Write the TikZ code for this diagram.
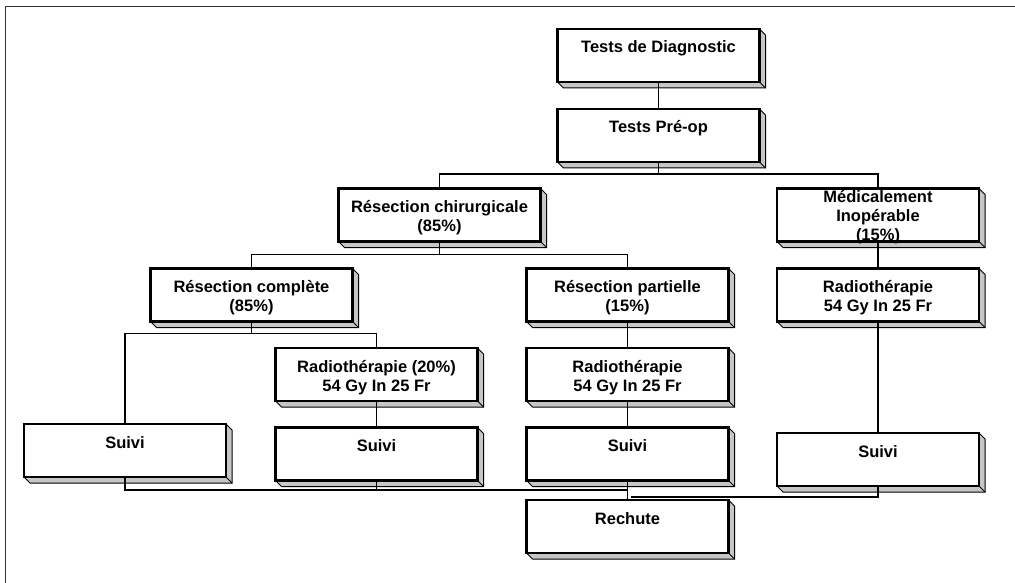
\documentclass[tikz,border=0pt]{standalone}
\usepackage{fontspec}
\setmainfont{Liberation Sans}
\usetikzlibrary{calc,backgrounds}

\tikzset{
  stagebox/.style={draw, line width=2.2pt, fill=white, minimum width=202pt, minimum height=53pt,
    inner sep=0pt, outer sep=0pt, align=center, text height=24pt, text depth=29pt,
    font=\fontsize{16.5}{19}\selectfont\bfseries},
  twolines/.style={text height=43pt, text depth=10pt},
  link/.style={line width=1.4pt},
  shade face/.style={fill=gray!45, line width=1pt},
}

\begin{document}
\begin{tikzpicture}[x=1pt, y=-1pt]
    \useasboundingbox (0,0) rectangle (1015,583);
    % Frame
    \draw[line width=1pt, black!80] (5.5,583) -- (5.5,7) -- (1015,7);

    % Work-up
    \node[stagebox] (diag) at (658.5,55.5) {Tests de Diagnostic};
    \node[stagebox] (preop) at (658.5,135.5) {Tests Pré-op};

    % First split
    \node[stagebox, twolines] (chir) at (439.5,215) {Résection chirurgicale\\(85\%)};
    \node[stagebox, text height=52pt, text depth=1pt] (medic) at (878,215) {Médicalement\\Inopérable\\(15\%)};

    % Surgery outcome
    \node[stagebox, twolines] (compl) at (251.5,295) {Résection complète\\(85\%)};
    \node[stagebox, twolines] (part) at (627.5,295) {Résection partielle\\(15\%)};
    \node[stagebox, twolines] (radR) at (878,295) {Radiothérapie\\54 Gy In 25 Fr};

    % Adjuvant treatment
    \node[stagebox, twolines] (rad20) at (376.5,374.5) {Radiothérapie (20\%)\\54 Gy In 25 Fr};
    \node[stagebox, twolines] (radP) at (627.5,374.5) {Radiothérapie\\54 Gy In 25 Fr};

    % Follow-up
    \node[stagebox] (suivi1) at (125,450.5) {Suivi};
    \node[stagebox] (suivi2) at (376.5,454) {Suivi};
    \node[stagebox] (suivi3) at (627.5,454) {Suivi};
    \node[stagebox] (suivi4) at (878,459.5) {Suivi};

    % Relapse
    \node[stagebox] (rechute) at (627.5,526.5) {Rechute};

    % 3D edges of the boxes
    \begin{pgfonlayer}{background}
        \foreach \b in {diag,preop,chir,medic,compl,part,radR,rad20,radP,suivi1,suivi2,suivi3,suivi4,rechute}{
            \filldraw[shade face] (\b.north east) -- ++(6,6) -- ($(\b.south east)+(6,6)$)
                -- ($(\b.south west)+(6,6)$) -- (\b.south west) -- cycle;
            \draw[line width=1pt] (\b.south east) -- ++(6,6);
        }
    \end{pgfonlayer}

    % Links
    \draw[link] (diag.south) -- (preop.north);
    \draw[link] (preop.south) -- ++(0,12) coordinate (j1) -| (chir.north);
    \draw[link] (j1) -| (medic.north);
    \draw[link] (chir.south) -- ++(0,13) coordinate (j2) -| (compl.north);
    \draw[link] (j2) -| (part.north);
    \draw[link] (medic.south) -- (radR.north);
    \draw[link] (compl.south) -- ++(0,12) coordinate (j3) -| (suivi1.north);
    \draw[link] (j3) -| (rad20.north);
    \draw[link] (rad20.south) -- (suivi2.north);
    \draw[link] (part.south) -- (radP.north);
    \draw[link] (radP.south) -- (suivi3.north);
    \draw[link] (radR.south) -- (suivi4.north);

    % Towards relapse
    \draw[link] (suivi1.south) -- ++(0,13) coordinate (j4) -- (j4 -| suivi3.south);
    \draw[link] (suivi2.south) -- (suivi2.south |- j4);
    \draw[link] (suivi3.south) -- (rechute.north);
    \draw[link] (suivi4.south) -- ++(0,11) coordinate (j5) -- ($(j5 -| rechute.north)+(3,0)$);
\end{tikzpicture}
\end{document}
